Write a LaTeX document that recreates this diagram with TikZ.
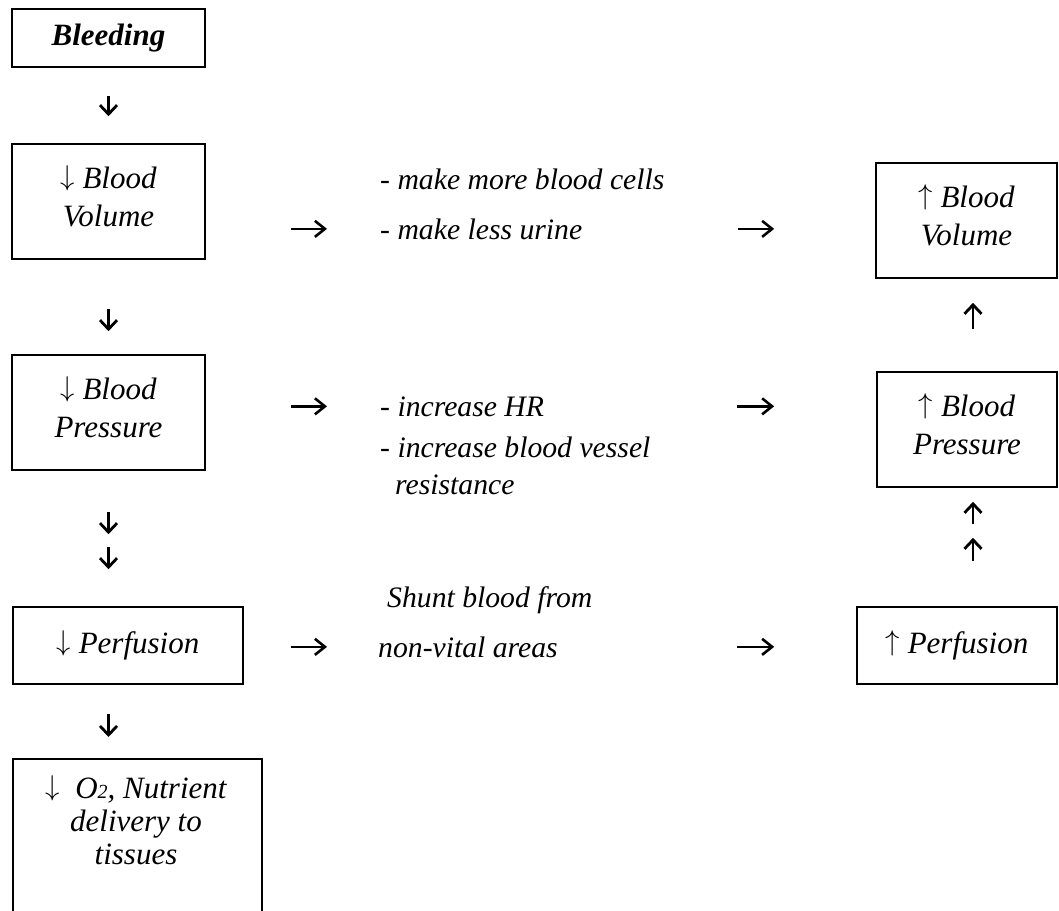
\documentclass[tikz,border=0pt]{standalone}
\usepackage{fontspec}
\setmainfont{Liberation Serif}
\usepackage{tikz}
\usetikzlibrary{arrows.meta,positioning}
\newcommand{\dn}{\raisebox{3pt}{\scalebox{1.15}{$\downarrow$}}}
\newcommand{\upa}{\raisebox{3pt}{\scalebox{1.15}{$\uparrow$}}}

\begin{document}
\begin{tikzpicture}[x=1pt,y=-1pt,
  box/.style={draw,line width=1.6pt,inner sep=0pt,align=center,font=\fontsize{31}{38}\selectfont\itshape},
  twoline/.style={text depth=10pt},
  txt/.style={inner sep=0pt,anchor=base west,font=\fontsize{29.7}{36}\selectfont\itshape},
  down/.style={line width=2.8pt,-{Straight Barb[length=9pt,width=17pt]}},
  side/.style={line width=2.6pt,-{Straight Barb[length=10pt,width=16pt]}}]
  \useasboundingbox (0,0) rectangle (1059,910);
  \clip (0,0) rectangle (1059,910);
  \coordinate (upcol) at (973,0);

  \node[box,minimum width=193,minimum height=58] (bleed) at (108.5,38) {\bfseries Bleeding};
  \node[box,twoline,minimum width=193,minimum height=115] (bvdown) at (108.5,201.5) {\dn\ Blood\\Volume};
  \node[box,twoline,minimum width=193,minimum height=115] (bpdown) at (108.5,412.5) {\dn\ Blood\\Pressure};
  \node[box,minimum width=230,minimum height=77] (perfdown) at (128,645.5) {\dn\ Perfusion};
  \node[box,minimum width=249,minimum height=200,anchor=north] (tissuebox) at (137.5,758) {};
  \node[box,draw=none,font=\fontsize{31}{33}\selectfont\itshape] (tissue) at (136,820)
    {\dn\ \ O{\fontsize{20}{20}\selectfont 2}, Nutrient\\delivery to\\tissues};

  \node[box,twoline,minimum width=181,minimum height=115] (bvup) at (966.5,220.5) {\upa\ Blood\\Volume};
  \node[box,twoline,minimum width=180,minimum height=115] (bpup) at (967,429.5) {\upa\ Blood\\Pressure};
  \node[box,minimum width=200,minimum height=77] (perfup) at (957,645.5) {\upa\ Perfusion};

  \node[txt] (more) at (380,189) {- make more blood cells};
  \node[txt] (less) at (380,239) {- make less urine};
  \node[txt] (hr) at (380,416) {- increase HR};
  \node[txt] (vessel) at (380,457) {- increase blood vessel};
  \node[txt] (resist) at (395,494) {resistance};
  \node[txt] (shunt) at (387,607) {Shunt blood from};
  \node[txt] (nonvital) at (378,657) {non-vital areas};

  \draw[down,shorten <=28pt,shorten >=27pt] (bleed.south) -- (bvdown.north);
  \draw[down,shorten <=49pt,shorten >=23pt] (bvdown.south) -- (bpdown.north);
  \draw[down,shorten <=41pt,shorten >=72pt] (bpdown.south) -- (perfdown.north -| bpdown.south);
  \draw[down,shorten <=76pt,shorten >=37pt] (bpdown.south) -- (perfdown.north -| bpdown.south);
  \draw[down,shorten <=29pt,shorten >=21pt] (perfdown.south -| bleed.south) -- (tissuebox.north -| bleed.south);

  \draw[down,shorten <=42pt,shorten >=24pt] (bpup.north -| upcol) -- (bvup.south -| upcol);
  \draw[down,shorten <=82pt,shorten >=14pt] (perfup.north -| upcol) -- (bpup.south -| upcol);
  \draw[down,shorten <=45pt,shorten >=50pt] (perfup.north -| upcol) -- (bpup.south -| upcol);

  \draw[side,shorten <=85pt,shorten >=53pt] (bvdown.east |- less.west) -- (less.west);
  \draw[side,shorten <=156pt,shorten >=101pt] (less.east) -- (bvup.west |- less.east);
  \draw[side,shorten <=85pt,shorten >=53pt] (bpdown.east |- hr.west) -- (hr.west);
  \draw[side,shorten <=193pt,shorten >=102pt] (hr.east) -- (bpup.west |- hr.east);
  \draw[side,shorten <=47pt,shorten >=51pt] (perfdown.east |- nonvital.west) -- (nonvital.west);
  \draw[side,shorten <=179pt,shorten >=82pt] (nonvital.east) -- (perfup.west |- nonvital.east);
\end{tikzpicture}
\end{document}
